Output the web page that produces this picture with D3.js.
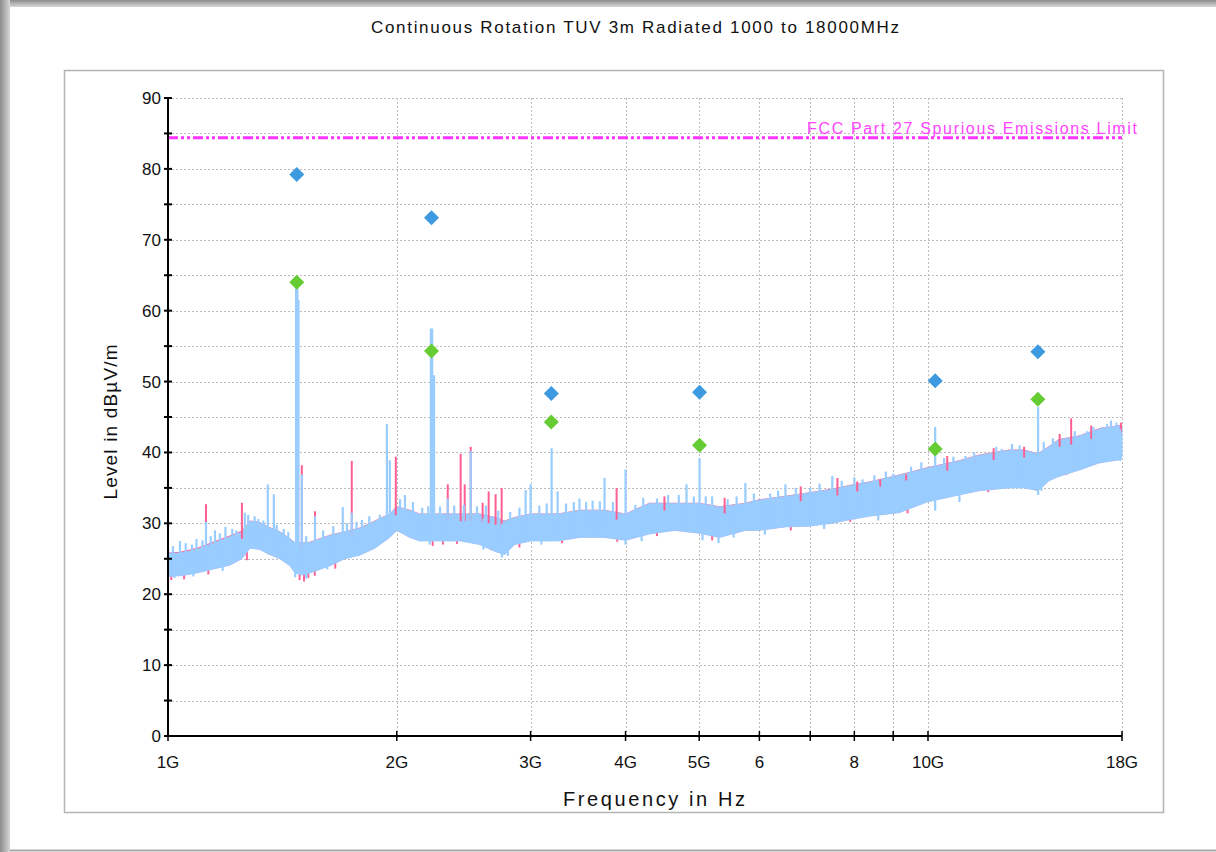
<!DOCTYPE html>
<html>
<head>
<meta charset="utf-8">
<script src="https://cdn.jsdelivr.net/npm/d3@7"></script>
<style>
  body { margin: 0; background: #fff; }
  svg { display: block; font-family: "Liberation Sans", Arial, sans-serif; }
</style>
</head>
<body>
<div id="chart"></div>
<script>
// ---- data (frequency in GHz, level in dBµV/m) ----
var titleText = "Continuous Rotation TUV 3m Radiated 1000 to 18000MHz";
var xTitle = "Frequency in Hz";
var yTitle = "Level in dBµV/m";
var limitLabel = "FCC Part 27 Spurious Emissions Limit";

var freqTicks = [1, 2, 3, 4, 5, 6, 7, 8, 9, 10, 18];
var freqLabels = ["1G", "2G", "3G", "4G", "5G", "6", "", "8", "", "10G", "18G"];
var levelTicks = [0, 10, 20, 30, 40, 50, 60, 70, 80, 90];
var levelMinor = [5, 15, 25, 35, 45, 55, 65, 75, 85];

var limitLevel = 84.4;

// envelope of the sweep traces
var traceFreq = [1.0, 1.037, 1.069, 1.102, 1.153, 1.206, 1.251, 1.282, 1.321, 1.353, 1.403, 1.447, 1.469,
  1.50, 1.537, 1.584, 1.633, 1.708, 1.788, 1.872, 1.958, 2.0, 2.08, 2.144, 2.197, 2.278, 2.427, 2.571,
  2.698, 2.773, 2.858, 3.0, 3.256, 3.479, 3.753, 4.0, 4.3, 4.639, 5.0, 5.317, 5.751, 6.0, 6.493, 6.98,
  7.483, 7.878, 8.37, 9.166, 9.97, 10.99, 11.68, 12.79, 13.38, 13.96, 14.43, 14.87, 15.8, 16.79, 17.94, 18];
var blueLow = [22.5, 22.6, 22.8, 23.1, 23.6, 24.1, 25.0, 26.5, 26.3, 25.7, 25.0, 24.0, 23.0,
  22.7, 23.0, 23.5, 24.0, 25.0, 25.5, 26.5, 28.0, 29.0, 28.0, 27.5, 27.5, 27.5, 27.5, 27.0,
  26.0, 25.6, 27.0, 27.5, 27.5, 28.0, 28.0, 27.6, 28.5, 29.0, 28.6, 28.0, 29.0, 29.0, 29.5, 29.6,
  30.0, 30.5, 31.0, 31.5, 33.0, 34.0, 34.6, 35.0, 35.0, 34.6, 36.0, 36.6, 37.5, 38.5, 39.0, 39.5];
var blueHigh = [25.8, 25.8, 26.1, 26.5, 27.3, 28.1, 28.8, 30.3, 30.1, 29.5, 28.8, 27.8, 27.3,
  27.3, 27.3, 27.8, 28.3, 28.8, 29.3, 30.3, 31.3, 32.3, 31.8, 31.3, 31.3, 31.3, 31.3, 31.3,
  30.8, 30.3, 30.8, 31.3, 31.3, 31.8, 31.8, 31.3, 32.8, 32.8, 32.8, 32.3, 32.8, 33.3, 33.8, 34.3,
  34.8, 35.3, 35.8, 36.8, 37.8, 38.8, 39.6, 40.3, 40.3, 39.8, 40.8, 41.8, 42.3, 43.3, 43.8, 43.8];
var pinkHigh = [25.9, 26.0, 26.3, 26.7, 27.5, 28.3, 29.0, 30.4, 30.2, 29.6, 28.9, 27.9, 27.3,
  27.3, 27.4, 27.9, 28.4, 28.9, 29.4, 30.4, 31.4, 32.4, 31.9, 31.4, 31.4, 31.4, 31.4, 31.4,
  30.9, 30.4, 30.9, 31.4, 31.4, 31.9, 31.9, 31.4, 32.9, 32.9, 32.9, 32.4, 32.9, 33.4, 33.9, 34.4,
  34.9, 35.4, 35.9, 36.9, 37.9, 38.9, 39.7, 40.4, 40.4, 39.9, 40.9, 41.9, 42.4, 43.4, 43.9, 43.9];

// narrow spikes rising out of the traces: [frequency, top level]
var blueSpikes = [[1.0, 35.8], [1.015, 26.8], [1.037, 27.5], [1.055, 27.2], [1.075, 27.0], [1.09, 27.8],
  [1.11, 27.6], [1.122, 30.2], [1.138, 28.2], [1.153, 29.0], [1.17, 28.6], [1.19, 29.5], [1.215, 29.2],
  [1.23, 29.0], [1.262, 31.5], [1.275, 31.2], [1.30, 31.0], [1.315, 30.6], [1.335, 30.4], [1.353, 35.5],
  [1.378, 34.1], [1.39, 29.8], [1.42, 29.2], [1.44, 28.8], [1.477, 63.3], [1.482, 61.5], [1.500, 36.9],
  [1.52, 28.2], [1.561, 31.0], [1.60, 29.0], [1.65, 29.6], [1.698, 32.3], [1.72, 30.0], [1.745, 31.5],
  [1.77, 30.2], [1.80, 30.5], [1.84, 31.0], [1.90, 31.2], [1.941, 44.0], [1.958, 38.9], [2.02, 33.4],
  [2.05, 34.0], [2.10, 33.0], [2.16, 32.2], [2.20, 32.4], [2.222, 57.5], [2.235, 50.9], [2.28, 32.4],
  [2.334, 33.5], [2.38, 32.5], [2.45, 32.6], [2.502, 40.2], [2.55, 32.4], [2.62, 32.5], [2.72, 31.8],
  [2.82, 31.6], [2.9, 32.2], [2.955, 34.7], [3.0, 35.5], [3.08, 32.5], [3.15, 32.8], [3.197, 40.6],
  [3.256, 34.5], [3.34, 32.8], [3.42, 33.0], [3.479, 33.5], [3.55, 33.0], [3.62, 33.2], [3.7, 33.1],
  [3.753, 36.4], [3.85, 33.0], [4.0, 37.6], [4.12, 32.6], [4.22, 33.6], [4.4, 33.5], [4.55, 34.0],
  [4.7, 34.0], [4.811, 35.5], [4.92, 33.8], [5.005, 39.2], [5.1, 33.8], [5.2, 33.8], [5.45, 33.4],
  [5.6, 33.8], [5.751, 35.7], [5.9, 34.2], [6.2, 34.2], [6.35, 34.6], [6.493, 35.5], [6.7, 35.0],
  [7.0, 35.0], [7.2, 35.6], [7.483, 36.7], [7.7, 36.0], [8.0, 36.5], [8.2, 36.2], [8.5, 36.8],
  [8.8, 37.3], [9.0, 37.0], [9.5, 38.0], [9.8, 38.6], [10.22, 43.6], [10.5, 39.2], [10.8, 39.4],
  [11.2, 39.5], [11.5, 40.0], [12.03, 39.8], [12.3, 40.8], [12.5, 40.5], [12.9, 41.2], [13.2, 41.0],
  [13.96, 46.4], [14.2, 41.5], [14.6, 42.0], [15.1, 41.8], [15.6, 43.0], [16.2, 43.0], [16.5, 43.6],
  [16.94, 43.6], [17.2, 44.0], [17.41, 44.5], [17.7, 44.2]];
var pinkSpikes = [[1.0, 26.5], [1.122, 32.7], [1.251, 32.9], [1.477, 59.7], [1.500, 38.2], [1.561, 31.7],
  [1.745, 38.8], [1.994, 39.4], [2.222, 47.9], [2.334, 35.5], [2.427, 39.8], [2.457, 35.5], [2.502, 40.8],
  [2.594, 32.9], [2.642, 34.5], [2.698, 34.1], [2.748, 35.0], [3.893, 35.0], [4.5, 33.8], [5.4, 33.6],
  [6.8, 35.2], [7.6, 36.4], [8.07, 35.9], [8.65, 36.2], [9.36, 36.9], [10.6, 39.5], [11.5, 39.6],
  [12.2, 40.6], [13.38, 40.8], [14.9, 42.6], [15.43, 44.8], [16.4, 43.8], [17.94, 44.2]];

// dips reaching below the traces: [frequency, bottom level]
var blueDips = [[1.02, 22.3], [1.08, 22.5], [1.18, 23.3], [1.47, 22.4], [1.52, 22.2], [1.62, 23.5],
  [2.21, 27.0], [2.60, 26.3], [2.75, 25.2], [2.8, 25.4], [3.1, 27.0], [4.0, 27.0], [4.2, 27.5],
  [5.05, 27.6], [5.3, 27.2], [5.55, 28.0], [6.1, 28.4], [7.3, 29.2], [8.6, 30.4], [10.22, 31.8],
  [11.0, 33.0], [13.96, 34.0], [14.1, 34.6], [17.9, 38.8]];
var pinkDips = [[1.01, 22.0], [1.05, 22.1], [1.13, 22.8], [1.27, 24.8], [1.49, 22.0], [1.51, 21.8],
  [1.53, 22.3], [1.56, 22.6], [1.66, 23.6], [2.23, 26.8], [2.3, 27.0], [2.4, 27.1], [2.66, 26.2],
  [2.9, 26.6], [3.3, 27.2], [3.9, 27.4], [4.4, 28.2], [5.2, 27.6], [6.6, 29.0], [7.9, 30.2],
  [9.4, 31.4], [12.0, 34.4], [15.2, 36.8], [17.5, 38.8]];

// final measurement points
var peakFreq = [1.477, 2.222, 3.194, 5.005, 10.22, 13.95];
var peakLevel = [79.2, 73.1, 48.3, 48.5, 50.1, 54.2];
var avgLevel = [64.0, 54.3, 44.3, 41.0, 40.5, 47.5];

// ---- drawing ----
var W = 1216, H = 852;
var plot = { left: 168, right: 1122, top: 98, bottom: 736 };

var svg = d3.select("#chart").append("svg")
  .attr("width", W)
  .attr("height", H);

// window frame shading
var defs = svg.append("defs");
var gl = defs.append("linearGradient").attr("id", "shadeL").attr("x1", 0).attr("x2", 1).attr("y1", 0).attr("y2", 0);
gl.append("stop").attr("offset", 0).attr("stop-color", "#8c8c8c");
gl.append("stop").attr("offset", 1).attr("stop-color", "#d8d8d8");
var gt = defs.append("linearGradient").attr("id", "shadeT").attr("x1", 0).attr("x2", 0).attr("y1", 0).attr("y2", 1);
gt.append("stop").attr("offset", 0).attr("stop-color", "#8c8c8c");
gt.append("stop").attr("offset", 1).attr("stop-color", "#d8d8d8");
svg.append("rect").attr("x", 0).attr("y", 0).attr("width", W).attr("height", 7).attr("fill", "url(#shadeT)");
svg.append("rect").attr("x", 0).attr("y", 0).attr("width", 10).attr("height", H).attr("fill", "url(#shadeL)");
svg.append("line").attr("x1", 10).attr("x2", W).attr("y1", 850.5).attr("y2", 850.5)
  .style("stroke", "#aaa").style("stroke-width", 2);

// title
svg.append("text")
  .attr("x", 635).attr("y", 33)
  .attr("text-anchor", "middle")
  .attr("textLength", 528).attr("lengthAdjust", "spacing")
  .style("font-size", "17px").style("fill", "#111")
  .text(titleText);

// panel
svg.append("rect")
  .attr("x", 64.5).attr("y", 70.5).attr("width", 1099).attr("height", 742)
  .style("fill", "#fff").style("stroke", "#b4b4b4").style("stroke-width", 1.5);

var x = d3.scaleLog().domain([1, 18]).range([plot.left, plot.right]);
var y = d3.scaleLinear().domain([0, 90]).range([plot.bottom, plot.top]);

var main = svg.append("g").attr("class", "main");

// grid
var grid = main.append("g").attr("class", "grid")
  .style("stroke", "#bdbdbd").style("stroke-width", 1).style("stroke-dasharray", "2,2");
grid.selectAll("line.h")
  .data(levelTicks.concat(levelMinor).filter(function (d) { return d > 0; }))
  .enter().append("line")
  .attr("x1", plot.left).attr("x2", plot.right)
  .attr("y1", function (d) { return Math.round(y(d)) + 0.5; })
  .attr("y2", function (d) { return Math.round(y(d)) + 0.5; });
grid.selectAll("line.v")
  .data(freqTicks.filter(function (d) { return d > 1; }))
  .enter().append("line")
  .attr("y1", plot.top).attr("y2", plot.bottom)
  .attr("x1", function (d) { return Math.round(x(d)) + 0.5; })
  .attr("x2", function (d) { return Math.round(x(d)) + 0.5; });

// limit line
main.append("line")
  .attr("x1", plot.left).attr("x2", plot.right)
  .attr("y1", y(limitLevel)).attr("y2", y(limitLevel))
  .style("stroke", "#ff33ff").style("stroke-width", 3)
  .style("stroke-dasharray", "10,3,3,3,3,3");
main.append("text")
  .attr("x", 1137).attr("y", y(limitLevel) - 4)
  .attr("text-anchor", "end")
  .attr("textLength", 330).attr("lengthAdjust", "spacing")
  .style("font-size", "16px").style("fill", "#ff44ff")
  .text(limitLabel);

// traces
function band(lowArr, highArr) {
  return d3.area()
    .x(function (d, i) { return x(traceFreq[i]); })
    .y0(function (d, i) { return y(lowArr[i]); })
    .y1(function (d, i) { return y(highArr[i]); })(traceFreq);
}
function levelAt(arr, f) {
  var i = d3.bisectRight(traceFreq, f);
  if (i <= 0) return arr[0];
  if (i >= traceFreq.length) return arr[arr.length - 1];
  var f0 = Math.log(traceFreq[i - 1]), f1 = Math.log(traceFreq[i]);
  var t = (Math.log(f) - f0) / (f1 - f0);
  return arr[i - 1] + t * (arr[i] - arr[i - 1]);
}
function vlines(g, data, from, color, width) {
  g.selectAll(null)
    .data(data).enter().append("line")
    .attr("x1", function (d) { return x(d[0]); }).attr("x2", function (d) { return x(d[0]); })
    .attr("y1", function (d) { return y(from(d)); })
    .attr("y2", function (d) { return y(d[1]); })
    .style("stroke", color).style("stroke-width", width);
}

var traces = main.append("g").attr("class", "traces");
// red trace only shows where it sticks out of the blue one
vlines(traces, pinkDips, function (d) { return levelAt(blueLow, d[0]) + 1; }, "#ff6497", 2);
traces.append("path").attr("d", band(blueLow, pinkHigh))
  .style("fill", "#ff6497");
traces.append("path").attr("d", band(blueLow, blueHigh))
  .style("fill", "#99ccff").style("stroke", "#99ccff").style("stroke-width", 0.8);

vlines(traces, pinkSpikes, function (d) { return levelAt(blueHigh, d[0]) - 1; }, "#ff5e91", 2);
vlines(traces, blueSpikes, function (d) { return levelAt(blueLow, d[0]) + 0.5; }, "#99ccff",
  function (d) { return d[1] > 50 ? 3.5 : 2.2; });
vlines(traces, blueDips, function (d) { return levelAt(blueHigh, d[0]) - 0.5; }, "#99ccff", 2.2);

// axes
var yAxis = main.append("g").attr("class", "yAxis");
yAxis.append("line")
  .attr("x1", plot.left).attr("x2", plot.left)
  .attr("y1", y(90)).attr("y2", y(0))
  .style("stroke", "#000").style("stroke-width", 2);
yAxis.selectAll("line.tick")
  .data(levelTicks.concat(levelMinor)).enter().append("line")
  .attr("x1", plot.left - 4).attr("x2", plot.left + 4)
  .attr("y1", function (d) { return y(d); }).attr("y2", function (d) { return y(d); })
  .style("stroke", "#000").style("stroke-width", 2);
yAxis.selectAll("text")
  .data(levelTicks).enter().append("text")
  .attr("x", plot.left - 7).attr("y", function (d) { return y(d) + 6; })
  .attr("text-anchor", "end")
  .style("font-size", "17px").style("fill", "#111")
  .text(function (d) { return d; });

var xAxis = main.append("g").attr("class", "xAxis");
xAxis.append("line")
  .attr("x1", plot.left).attr("x2", plot.right)
  .attr("y1", y(0)).attr("y2", y(0))
  .style("stroke", "#000").style("stroke-width", 2);
xAxis.selectAll("line.tick")
  .data(freqTicks).enter().append("line")
  .attr("x1", function (d) { return x(d); }).attr("x2", function (d) { return x(d); })
  .attr("y1", y(0) - 5).attr("y2", y(0) + 5)
  .style("stroke", "#000").style("stroke-width", 1.5);
xAxis.selectAll("text")
  .data(freqTicks).enter().append("text")
  .attr("x", function (d) { return x(d); }).attr("y", 768)
  .attr("text-anchor", "middle")
  .style("font-size", "17px").style("fill", "#111")
  .text(function (d, i) { return freqLabels[i]; });

svg.append("text")
  .attr("x", 654).attr("y", 806)
  .attr("text-anchor", "middle")
  .attr("textLength", 182).attr("lengthAdjust", "spacing")
  .style("font-size", "20px").style("fill", "#111")
  .text(xTitle);
svg.append("text")
  .attr("transform", "translate(117,422) rotate(-90)")
  .attr("text-anchor", "middle")
  .attr("textLength", 155).attr("lengthAdjust", "spacing")
  .style("font-size", "19px").style("fill", "#111")
  .text(yTitle);

// measurement diamonds
function diamond(cx, cy) {
  var r = 7.5;
  return "M" + cx + "," + (cy - r) + "L" + (cx + r) + "," + cy + "L" + cx + "," + (cy + r) + "L" + (cx - r) + "," + cy + "Z";
}
var marks = main.append("g").attr("class", "marks");
marks.selectAll("path.pk")
  .data(peakFreq).enter().append("path")
  .attr("d", function (d, i) { return diamond(x(d), y(peakLevel[i])); })
  .style("fill", "#3e9ae0");
marks.selectAll("path.av")
  .data(peakFreq).enter().append("path")
  .attr("d", function (d, i) { return diamond(x(d), y(avgLevel[i])); })
  .style("fill", "#66cc33");
</script>
</body>
</html>
